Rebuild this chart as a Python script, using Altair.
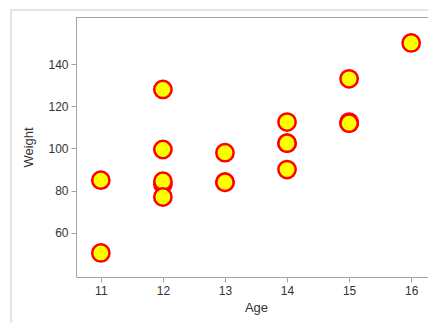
import altair as alt
import pandas as pd

names = ["Alfred", "Alice", "Barbara", "Carol", "Henry", "James", "Jane", "Janet",
         "Jeffrey", "John", "Joyce", "Judy", "Louise", "Mary", "Philip", "Robert",
         "Ronald", "Thomas", "William"]
age = [14, 13, 13, 14, 14, 12, 12, 15, 13, 12, 11, 14, 12, 15, 16, 12, 15, 11, 15]
weight = [112.5, 84, 98, 102.5, 102.5, 83, 84.5, 112.5, 84, 99.5, 50.5, 90, 77,
          112, 150, 128, 133, 85, 112]

df = pd.DataFrame({"Name": names, "Age": age, "Weight": weight})

font = "Liberation Sans"
frame_color = "#a0a4a8"

border = alt.Chart(pd.DataFrame({"a": [0]})).mark_rect(
    fill="transparent", stroke="#e4e4ec", strokeWidth=2
).encode(
    x=alt.value(-65), x2=alt.value(358),
    y=alt.value(-7), y2=alt.value(320),
)

top_line = alt.Chart(pd.DataFrame({"a": [0]})).mark_rule(
    color=frame_color, strokeWidth=1
).encode(
    x=alt.value(0), x2=alt.value(352), y=alt.value(0.5),
)

points = alt.Chart(df).mark_point(
    shape="circle", filled=True, fill="#ffff00", stroke="#ff0000",
    strokeWidth=2.5, size=300, opacity=1, fillOpacity=1
).encode(
    x=alt.X("Age:Q", scale=alt.Scale(domain=[10.6, 16.4], nice=False, zero=False),
            axis=alt.Axis(values=[11, 12, 13, 14, 15, 16], title="Age")),
    y=alt.Y("Weight:Q", scale=alt.Scale(domain=[39.1, 162.3], nice=False, zero=False),
            axis=alt.Axis(values=[60, 80, 100, 120, 140], title="Weight")),
)

chart = alt.layer(border, top_line, points).properties(
    width=360, height=260,
    autosize=alt.AutoSizeParams(type="none"),
    padding={"left": 68, "top": 9, "right": -8, "bottom": 46},
).configure_view(
    stroke="transparent"
).configure_axis(
    grid=False, domainColor=frame_color, tickColor=frame_color, tickSize=5,
    labelFont=font, titleFont=font, labelFontSize=12, titleFontSize=13,
    labelColor="#333333", titleColor="#333333", titleFontWeight="normal",
    labelPadding=3,
).configure_axisX(titlePadding=5).configure_axisY(titlePadding=12)

chart.save("out.html", embed_options={"renderer": "svg", "actions": False})
